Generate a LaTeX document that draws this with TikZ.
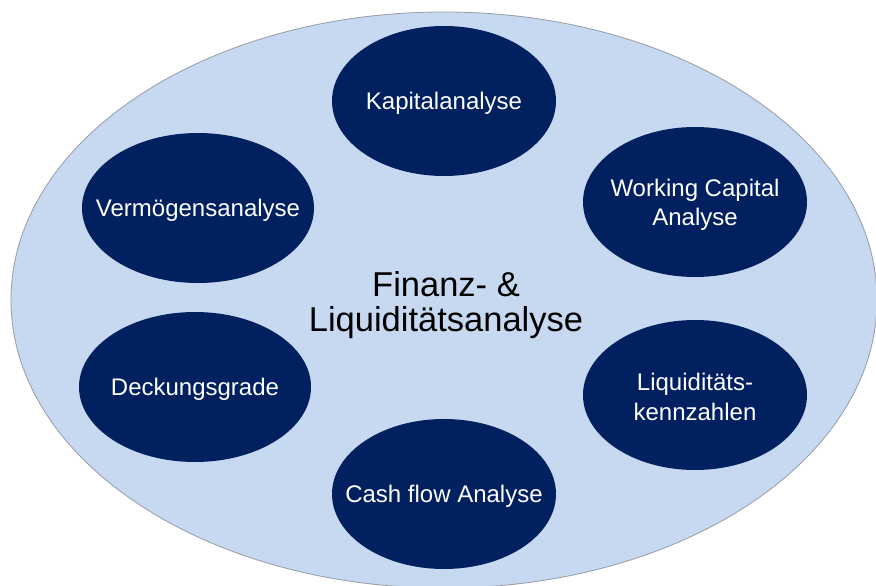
\documentclass[tikz,border=0pt]{standalone}
\usepackage{fontspec}
\setmainfont{Liberation Sans}
\usetikzlibrary{shapes.geometric}
\definecolor{outerfill}{RGB}{198,217,241}
\definecolor{outerline}{RGB}{150,155,165}
\definecolor{navy}{RGB}{0,32,96}
\begin{document}
\begin{tikzpicture}[x=1pt,y=-1pt,
  topic/.style={ellipse, fill=navy, draw=none, inner sep=0pt,
    minimum width=224pt, minimum height=150pt},
  topictext/.style={text=white, inner sep=0pt, yshift=-2pt,
    font=\fontsize{24}{29.5}\selectfont, align=center},
  outerbox/.style={ellipse, fill=outerfill, draw=outerline, line width=0.8pt,
    inner sep=0pt, minimum width=866pt, minimum height=576pt}]
\clip (0,0) rectangle (876,586);
\fill[white] (0,0) rectangle (876,586);
\node[outerbox] (outer) at (444,300) {};
\node[font=\fontsize{34.5}{35}\selectfont, align=center] (center) at (446,305) {Finanz- \&\\Liquiditätsanalyse};
\node[topic] (kap) at (444,101) {};
\node[topictext] (kapT) at (kap.center) {Kapitalanalyse};
\node[topic, minimum width=232pt] (verm) at (198,208) {};
\node[topictext] (vermT) at (verm.center) {Vermögensanalyse};
\node[topic] (work) at (695,202) {};
\node[topictext] (workT) at ([yshift=-1pt]work.center) {Working Capital\\Analyse};
\node[topic, minimum width=232pt] (deck) at (195,387) {};
\node[topictext] (deckT) at (deck.center) {Deckungsgrade};
\node[topic] (liq) at (695,395) {};
\node[topictext] (liqT) at (liq.center) {Liquiditäts-\\kennzahlen};
\node[topic] (cash) at (444,494) {};
\node[topictext] (cashT) at (cash.center) {Cash flow Analyse};
\end{tikzpicture}
\end{document}
